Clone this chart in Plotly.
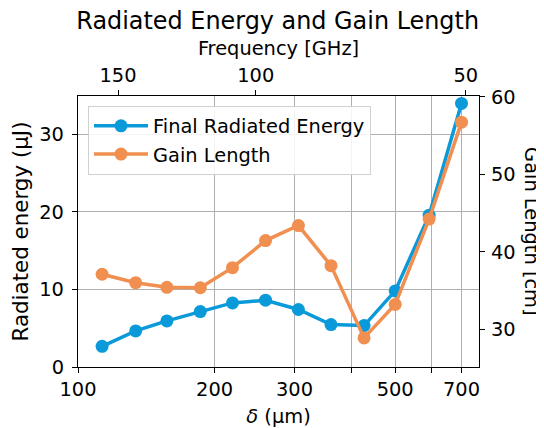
import math
import plotly.graph_objects as go

# ---- data ----
delta_um = [113, 134, 157, 186, 219, 259, 306, 361, 427, 500, 594, 700]
radiated_energy_uJ = [2.67, 4.65, 5.94, 7.15, 8.26, 8.61, 7.41, 5.47, 5.34, 9.81, 19.57, 33.97]
gain_length_cm = [37.12, 36.03, 35.43, 35.38, 37.97, 41.46, 43.40, 38.23, 28.91, 33.23, 44.23, 56.73]

x_tick_vals = [100, 200, 300, 400, 500, 600, 700]
x_tick_text = ["100", "200", "300", "", "500", "", "700"]
freq_tick_text = ["150", "100", "50"]
freq_tick_delta = [122.5, 246.4, 715.3]   # delta position of each frequency tick
y_left_ticks = [0, 10, 20, 30]
y_right_ticks = [30, 40, 50, 60]

BLUE = "#0A9AD9"
ORANGE = "#F08F4F"
FONT = "DejaVu Sans"
FS = 19.4

# the page body has an 8px margin, so the figure is drawn 8px in from the corner
W, H = 536, 420

fig = go.Figure()
fig.add_trace(go.Scatter(
    x=delta_um, y=radiated_energy_uJ, name="Final Radiated Energy",
    mode="lines+markers", line=dict(color=BLUE, width=3.5),
    marker=dict(color=BLUE, size=13), xaxis="x", yaxis="y"))
fig.add_trace(go.Scatter(
    x=delta_um, y=gain_length_cm, name="Gain Length",
    mode="lines+markers", line=dict(color=ORANGE, width=3.5),
    marker=dict(color=ORANGE, size=13), xaxis="x", yaxis="y2"))
# invisible helper trace so the top (frequency) axis gets drawn
fig.add_trace(go.Scatter(
    x=delta_um, y=radiated_energy_uJ, mode="markers",
    marker=dict(opacity=0, size=1), showlegend=False, hoverinfo="skip",
    xaxis="x2", yaxis="y"))

xr = [2, math.log10(765)]

axis_common = dict(showline=True, linecolor="black", linewidth=1.3,
                   ticks="outside", ticklen=5, tickwidth=1.2, tickcolor="black",
                   tickfont=dict(family=FONT, size=FS, color="black"),
                   zeroline=False)

fig.update_layout(
    width=W, height=H,
    margin=dict(l=70.3, r=64.7, t=88, b=61.3, autoexpand=False),
    paper_bgcolor="white", plot_bgcolor="white",
    font=dict(family=FONT, size=FS, color="black"),
    title=dict(text="Radiated Energy and Gain Length", x=(277.7 - 8) / W,
               xref="container", xanchor="center",
               y=1 - 12.5 / H, yanchor="middle", yref="container",
               font=dict(family=FONT, size=23.9, color="black")),
    xaxis=dict(type="log", range=xr, tickvals=x_tick_vals, ticktext=x_tick_text,
               showgrid=True, gridcolor="#b0b0b0", gridwidth=1, anchor="y",
               title=dict(text="<i>δ</i> (µm)", standoff=15,
                          font=dict(family=FONT, size=FS)),
               **axis_common),
    xaxis2=dict(type="log", range=xr, overlaying="x", side="top", anchor="y",
                tickvals=freq_tick_delta, ticktext=freq_tick_text,
                showgrid=False,
                title=dict(text="Frequency [GHz]", standoff=3,
                           font=dict(family=FONT, size=FS)),
                **axis_common),
    yaxis=dict(range=[0, 34.93], tickvals=y_left_ticks,
               showgrid=True, gridcolor="#b0b0b0", gridwidth=1,
               ticklabelstandoff=4,
               title=dict(text="Radiated energy (µJ)", standoff=7,
                          font=dict(family=FONT, size=21.4)),
               **axis_common),
    yaxis2=dict(range=[25.16, 60.1], tickvals=y_right_ticks, overlaying="y",
                side="right", showgrid=False, anchor="x",
                ticklabelstandoff=2, **axis_common),
    legend=dict(x=(88.3 - 78.3) / 401, y=1 - 9.7 / 270.7,
                xanchor="left", yanchor="top", itemwidth=54,
                bgcolor="rgba(255,255,255,0.85)", bordercolor="#d0d0d0",
                borderwidth=1, font=dict(family=FONT, size=FS)),
    showlegend=True,
)
fig.add_annotation(text="Gain Length [cm]", xref="paper", yref="paper",
                   x=(531.7 - 78.3) / 401, y=0.5, textangle=90,
                   showarrow=False, xanchor="center", yanchor="middle",
                   font=dict(family=FONT, size=FS, color="black"))

fig.write_html("out.html")
